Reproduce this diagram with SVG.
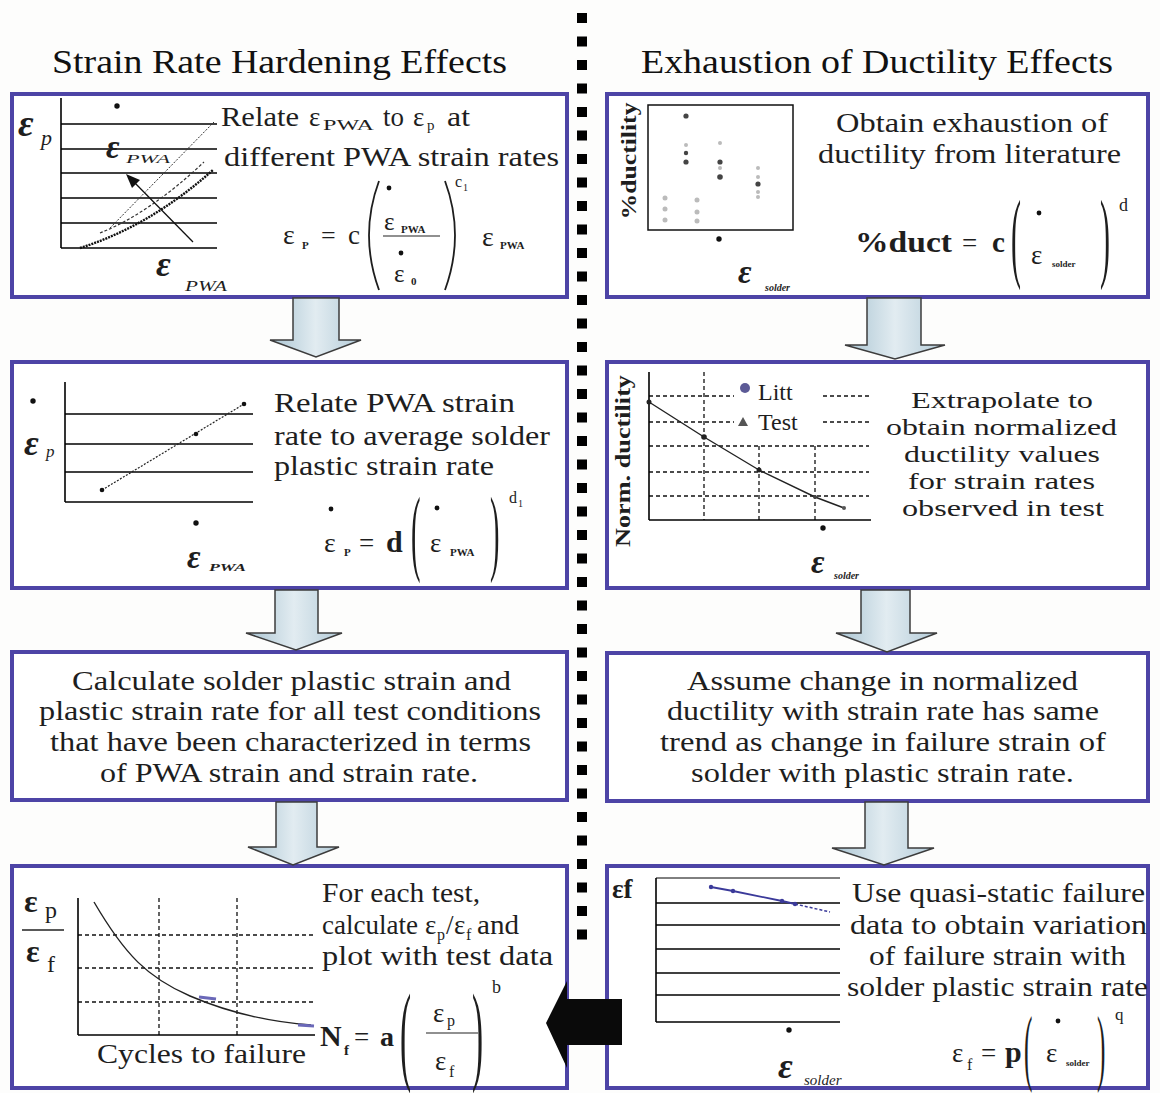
<svg xmlns="http://www.w3.org/2000/svg" width="1160" height="1093" viewBox="0 0 1160 1093">
<style>
.bg{fill:#fdfdfc}
.box{fill:#fff;stroke:#4d44a6;stroke-width:4}
.t{font-family:"Liberation Serif","Times New Roman",serif;font-size:27px;fill:#1e1e1e}
.t2{font-family:"Liberation Serif","Times New Roman",serif;font-size:24px;fill:#1e1e1e}
.h{font-family:"Liberation Serif","Times New Roman",serif;font-size:33px;fill:#111}
.m{font-family:"Liberation Serif","Times New Roman",serif;fill:#1e1e1e}
.b{font-weight:bold}
.i{font-style:italic}
.g{stroke:#000;stroke-width:1.6;fill:none}
.gt{stroke:#000;stroke-width:1;fill:none}
.d{stroke:#111;stroke-width:1.3;stroke-dasharray:4 3;fill:none}
.arr{fill:url(#ag);stroke:#3c3c3c;stroke-width:1.5}
.sq{fill:#000}
.dot{fill:#111}
.par{fill:none;stroke:#1e1e1e;stroke-width:1.8}
</style>
<defs>
<linearGradient id="ag" x1="0" y1="0" x2="1" y2="0">
<stop offset="0" stop-color="#a9c4d2"/><stop offset="0.5" stop-color="#e2ecf1"/><stop offset="1" stop-color="#b3cbd8"/>
</linearGradient>
</defs>
<rect class="bg" x="0" y="0" width="1160" height="1093"/>

<!-- separator -->
<g id="separator">
<rect class="sq" x="577" y="13" width="10" height="10"/><rect class="sq" x="577" y="36.5" width="10" height="10"/><rect class="sq" x="577" y="60" width="10" height="10"/><rect class="sq" x="577" y="83.5" width="10" height="10"/><rect class="sq" x="577" y="107" width="10" height="10"/><rect class="sq" x="577" y="130.5" width="10" height="10"/><rect class="sq" x="577" y="154" width="10" height="10"/><rect class="sq" x="577" y="177.5" width="10" height="10"/><rect class="sq" x="577" y="201" width="10" height="10"/><rect class="sq" x="577" y="224.5" width="10" height="10"/><rect class="sq" x="577" y="248" width="10" height="10"/><rect class="sq" x="577" y="271.5" width="10" height="10"/><rect class="sq" x="577" y="295" width="10" height="10"/><rect class="sq" x="577" y="318.5" width="10" height="10"/><rect class="sq" x="577" y="342" width="10" height="10"/><rect class="sq" x="577" y="365.5" width="10" height="10"/><rect class="sq" x="577" y="389" width="10" height="10"/><rect class="sq" x="577" y="412.5" width="10" height="10"/><rect class="sq" x="577" y="436" width="10" height="10"/><rect class="sq" x="577" y="459.5" width="10" height="10"/><rect class="sq" x="577" y="483" width="10" height="10"/><rect class="sq" x="577" y="506.5" width="10" height="10"/><rect class="sq" x="577" y="530" width="10" height="10"/><rect class="sq" x="577" y="553.5" width="10" height="10"/><rect class="sq" x="577" y="577" width="10" height="10"/><rect class="sq" x="577" y="600.5" width="10" height="10"/><rect class="sq" x="577" y="624" width="10" height="10"/><rect class="sq" x="577" y="647.5" width="10" height="10"/><rect class="sq" x="577" y="671" width="10" height="10"/><rect class="sq" x="577" y="694.5" width="10" height="10"/><rect class="sq" x="577" y="718" width="10" height="10"/><rect class="sq" x="577" y="741.5" width="10" height="10"/><rect class="sq" x="577" y="765" width="10" height="10"/><rect class="sq" x="577" y="788.5" width="10" height="10"/><rect class="sq" x="577" y="812" width="10" height="10"/><rect class="sq" x="577" y="835.5" width="10" height="10"/><rect class="sq" x="577" y="859" width="10" height="10"/><rect class="sq" x="577" y="882.5" width="10" height="10"/><rect class="sq" x="577" y="906" width="10" height="10"/><rect class="sq" x="577" y="929.5" width="10" height="10"/>
</g>

<!-- titles -->
<text class="h" x="52" y="73" textLength="455" lengthAdjust="spacingAndGlyphs">Strain Rate Hardening Effects</text>
<text class="h" x="641" y="73" textLength="472" lengthAdjust="spacingAndGlyphs">Exhaustion of Ductility Effects</text>

<!-- L1 -->
<g id="node-L1">
<rect class="box" x="12" y="94" width="555" height="203"/>
<line class="g" x1="61" y1="98" x2="61" y2="248"/>
<line class="g" x1="61" y1="124" x2="217" y2="124"/>
<line class="g" x1="61" y1="149" x2="217" y2="149"/>
<line class="g" x1="61" y1="173" x2="217" y2="173"/>
<line class="g" x1="61" y1="198" x2="217" y2="198"/>
<line class="g" x1="61" y1="223" x2="217" y2="223"/>
<line class="g" x1="61" y1="248" x2="217" y2="248"/>
<path d="M110,228 L214,122" stroke="#333" stroke-width="1" stroke-dasharray="2 1.5" fill="none"/>
<path d="M100,233 Q150,213 204,162" stroke="#333" stroke-width="1.2" stroke-dasharray="3 2" fill="none"/>
<path d="M80,248 Q150,226 213,170" stroke="#111" stroke-width="2.4" stroke-dasharray="2 1" fill="none"/>
<line x1="193" y1="242" x2="133" y2="181" stroke="#111" stroke-width="1.3"/>
<polygon points="126,174 140,180 132,188" fill="#111"/>
<text class="m b i" x="18" y="136" font-size="38">ε</text>
<text class="m i" x="41" y="145" font-size="22">p</text>
<circle class="dot" cx="117" cy="106" r="2.7"/>
<text class="m b i" x="106" y="158" font-size="33">ε</text>
<text class="m i" x="126" y="163" font-size="12" textLength="44" lengthAdjust="spacingAndGlyphs">PWA</text>
<text class="m b i" x="156" y="276" font-size="36">ε</text>
<text class="m i" x="185" y="291" font-size="15" textLength="42" lengthAdjust="spacingAndGlyphs">PWA</text>
<text class="t" x="221" y="126" textLength="78" lengthAdjust="spacingAndGlyphs">Relate</text>
<text class="t" x="309" y="126">ε</text>
<text class="m" x="323" y="130" font-size="15" textLength="51" lengthAdjust="spacingAndGlyphs">PWA</text>
<text class="t" x="383" y="126" textLength="21" lengthAdjust="spacingAndGlyphs">to</text>
<text class="t" x="413" y="126">ε</text>
<text class="m" x="427" y="130" font-size="15">p</text>
<text class="t" x="447" y="126" textLength="23" lengthAdjust="spacingAndGlyphs">at</text>
<text class="t" x="224" y="166" textLength="335" lengthAdjust="spacingAndGlyphs">different PWA strain rates</text>
<text class="m" x="283" y="244" font-size="28">ε</text>
<text class="m b" x="302" y="249" font-size="11">P</text>
<text class="m" x="321" y="244" font-size="26">=</text>
<text class="m" x="348" y="244" font-size="27">c</text>
<path class="par" d="M379,181 Q359,235 379,290"/>
<circle class="dot" cx="389" cy="188" r="2.4"/>
<text class="m" x="384" y="230" font-size="25">ε</text>
<text class="m b" x="401" y="233" font-size="11">PWA</text>
<line x1="383" y1="236" x2="440" y2="236" stroke="#222" stroke-width="1.2"/>
<circle class="dot" cx="401" cy="253" r="2.4"/>
<text class="m" x="394" y="282" font-size="25">ε</text>
<text class="m b" x="411" y="285" font-size="11">0</text>
<path class="par" d="M445,181 Q465,235 445,290"/>
<text class="m" x="455" y="187" font-size="16">c</text>
<text class="m" x="463" y="191" font-size="10">1</text>
<text class="m" x="482" y="246" font-size="28">ε</text>
<text class="m b" x="500" y="249" font-size="11">PWA</text>
</g>

<!-- R1 -->
<g id="node-R1">
<rect class="box" x="607" y="94" width="541" height="203"/>
<rect x="648" y="105" width="145" height="125" fill="#fff" stroke="#111" stroke-width="1.5"/>
<text class="m b" transform="translate(636,161) rotate(-90)" text-anchor="middle" font-size="20" textLength="117" lengthAdjust="spacingAndGlyphs">%ductility</text>
<g fill="#bbb">
<circle cx="665" cy="198" r="2.5"/><circle cx="665" cy="209" r="2.5"/><circle cx="665" cy="220" r="2.5"/>
<circle cx="697" cy="200" r="2.5"/><circle cx="697" cy="212" r="2.5"/><circle cx="697" cy="221" r="2.5"/>
<circle cx="686" cy="145" r="2"/><circle cx="720" cy="143" r="2"/><circle cx="720" cy="168" r="2"/><circle cx="758" cy="168" r="2"/><circle cx="758" cy="177" r="2"/><circle cx="758" cy="192" r="2"/><circle cx="758" cy="197" r="2"/>
</g>
<g fill="#444">
<circle cx="686" cy="116" r="2.6"/><circle cx="686" cy="153" r="2.2"/><circle cx="686" cy="162" r="2.6"/>
<circle cx="720" cy="162" r="2.6"/><circle cx="720" cy="177" r="2.8"/>
<circle cx="758" cy="184" r="2.6"/>
</g>
<circle class="dot" cx="719" cy="239" r="2.7"/>
<text class="m b i" x="738" y="283" font-size="33">ε</text>
<text class="m b i" x="765" y="291" font-size="10">solder</text>
<text class="t" x="836" y="132" textLength="272" lengthAdjust="spacingAndGlyphs">Obtain exhaustion of</text>
<text class="t" x="818" y="163" textLength="303" lengthAdjust="spacingAndGlyphs">ductility from literature</text>
<text class="m b" x="855" y="252" font-size="29" textLength="97" lengthAdjust="spacingAndGlyphs">%duct</text>
<text class="m" x="962" y="252" font-size="27">=</text>
<text class="m b" x="992" y="252" font-size="29">c</text>
<text class="m" transform="translate(1011,269) scale(0.3,1)" font-size="100">(</text>
<circle class="dot" cx="1039" cy="213" r="2.4"/>
<text class="m" x="1031" y="264" font-size="27">ε</text>
<text class="m b" x="1052" y="267" font-size="9">solder</text>
<text class="m" transform="translate(1100,269) scale(0.3,1)" font-size="100">)</text>
<text class="m" x="1119" y="211" font-size="18">d</text>
</g>

<!-- L2 -->
<g id="node-L2">
<rect class="box" x="12" y="362" width="555" height="226"/>
<line class="g" x1="65" y1="382" x2="65" y2="502"/>
<line class="g" x1="65" y1="414" x2="253" y2="414"/>
<line class="g" x1="65" y1="444" x2="253" y2="444"/>
<line class="g" x1="65" y1="472" x2="253" y2="472"/>
<line class="g" x1="65" y1="502" x2="253" y2="502"/>
<line x1="102" y1="490" x2="244" y2="404" stroke="#222" stroke-width="1.2" stroke-dasharray="2 1.5"/>
<circle cx="102" cy="490" r="2.3" fill="#111"/><circle cx="196" cy="434" r="2.3" fill="#111"/><circle cx="244" cy="404" r="2.3" fill="#111"/>
<circle class="dot" cx="33" cy="401" r="2.7"/>
<text class="m b i" x="24" y="455" font-size="36">ε</text>
<text class="m i" x="46" y="457" font-size="17">p</text>
<circle class="dot" cx="196" cy="523" r="2.7"/>
<text class="m b i" x="187" y="568" font-size="33">ε</text>
<text class="m b i" x="209" y="571" font-size="11" textLength="37" lengthAdjust="spacingAndGlyphs">PWA</text>
<text class="t" x="274" y="412" textLength="241" lengthAdjust="spacingAndGlyphs">Relate PWA strain</text>
<text class="t" x="274" y="445" textLength="276" lengthAdjust="spacingAndGlyphs">rate to average solder</text>
<text class="t" x="274" y="475" textLength="220" lengthAdjust="spacingAndGlyphs">plastic strain rate</text>
<circle class="dot" cx="331" cy="509" r="2.4"/>
<text class="m" x="324" y="552" font-size="28">ε</text>
<text class="m b" x="344" y="556" font-size="11">P</text>
<text class="m" x="359" y="552" font-size="27">=</text>
<text class="m b" x="386" y="552" font-size="30">d</text>
<text class="m" transform="translate(411,563) scale(0.3,1)" font-size="95">(</text>
<circle class="dot" cx="437" cy="508" r="2.4"/>
<text class="m" x="430" y="552" font-size="27">ε</text>
<text class="m b" x="450" y="556" font-size="11">PWA</text>
<text class="m" transform="translate(490,563) scale(0.3,1)" font-size="95">)</text>
<text class="m" x="509" y="503" font-size="16">d</text>
<text class="m" x="518" y="507" font-size="10">1</text>
</g>

<!-- R2 -->
<g id="node-R2">
<rect class="box" x="607" y="362" width="541" height="226"/>
<line class="d" x1="649" y1="396" x2="734" y2="396"/><line class="d" x1="823" y1="396" x2="869" y2="396"/>
<line class="d" x1="649" y1="422" x2="734" y2="422"/><line class="d" x1="823" y1="422" x2="869" y2="422"/>
<line class="d" x1="649" y1="446" x2="869" y2="446"/>
<line class="d" x1="649" y1="472" x2="869" y2="472"/>
<line class="d" x1="649" y1="496" x2="869" y2="496"/>
<line class="d" x1="704" y1="372" x2="704" y2="520"/>
<line class="d" x1="759" y1="446" x2="759" y2="520"/>
<line class="d" x1="815" y1="446" x2="815" y2="520"/>
<line class="g" x1="649" y1="372" x2="649" y2="520"/>
<line class="g" x1="649" y1="520" x2="871" y2="520"/>
<polyline points="649,402 704,437 759,470 815,497 844,508" fill="none" stroke="#222" stroke-width="1.4"/>
<circle cx="649" cy="402" r="2.5" fill="#222"/><circle cx="704" cy="437" r="2.8" fill="#222"/><circle cx="759" cy="470" r="2.5" fill="#222"/><circle cx="815" cy="497" r="2" fill="#444"/><circle cx="844" cy="508" r="2" fill="#555"/>
<circle cx="745" cy="388" r="5" fill="#5c5a96"/>
<text class="m" x="758" y="400" font-size="24">Litt</text>
<polygon points="743,417 748,426 738,426" fill="#555"/>
<text class="m" x="758" y="430" font-size="24">Test</text>
<text class="m b" transform="translate(630,461) rotate(-90)" text-anchor="middle" font-size="21" textLength="172" lengthAdjust="spacingAndGlyphs">Norm. ductility</text>
<circle class="dot" cx="823" cy="528" r="2.7"/>
<text class="m b i" x="811" y="573" font-size="33">ε</text>
<text class="m b i" x="834" y="579" font-size="10">solder</text>
<text class="t2" x="911" y="408" textLength="182" lengthAdjust="spacingAndGlyphs">Extrapolate to</text>
<text class="t2" x="886" y="435" textLength="231" lengthAdjust="spacingAndGlyphs">obtain normalized</text>
<text class="t2" x="904" y="462" textLength="196" lengthAdjust="spacingAndGlyphs">ductility values</text>
<text class="t2" x="908" y="489" textLength="187" lengthAdjust="spacingAndGlyphs">for strain rates</text>
<text class="t2" x="902" y="516" textLength="202" lengthAdjust="spacingAndGlyphs">observed in test</text>
</g>

<!-- L3 -->
<g id="node-L3">
<rect class="box" x="12" y="652" width="555" height="148"/>
<text class="t" x="72" y="690" textLength="439" lengthAdjust="spacingAndGlyphs">Calculate solder plastic strain and</text>
<text class="t" x="39" y="720" textLength="502" lengthAdjust="spacingAndGlyphs">plastic strain rate for all test conditions</text>
<text class="t" x="50" y="751" textLength="481" lengthAdjust="spacingAndGlyphs">that have been characterized in terms</text>
<text class="t" x="100" y="782" textLength="378" lengthAdjust="spacingAndGlyphs">of PWA strain and strain rate.</text>
</g>

<!-- R3 -->
<g id="node-R3">
<rect class="box" x="607" y="653" width="541" height="148"/>
<text class="t" x="687" y="690" textLength="391" lengthAdjust="spacingAndGlyphs">Assume change in normalized</text>
<text class="t" x="667" y="720" textLength="432" lengthAdjust="spacingAndGlyphs">ductility with strain rate has same</text>
<text class="t" x="660" y="751" textLength="446" lengthAdjust="spacingAndGlyphs">trend as change in failure strain of</text>
<text class="t" x="691" y="782" textLength="383" lengthAdjust="spacingAndGlyphs">solder with plastic strain rate.</text>
</g>

<!-- L4 -->
<g id="node-L4">
<rect class="box" x="12" y="866" width="555" height="222"/>
<line class="d" x1="78" y1="935" x2="315" y2="935"/>
<line class="d" x1="78" y1="968" x2="315" y2="968"/>
<line class="d" x1="78" y1="1002" x2="315" y2="1002"/>
<line class="d" x1="159" y1="898" x2="159" y2="1035"/>
<line class="d" x1="237" y1="898" x2="237" y2="1035"/>
<line class="g" x1="78" y1="898" x2="78" y2="1035"/>
<line class="g" x1="78" y1="1035" x2="315" y2="1035"/>
<path d="M94,902 C125,955 148,978 190,996 S270,1022 311,1025" fill="none" stroke="#222" stroke-width="1.4"/>
<line x1="199" y1="997" x2="216" y2="999" stroke="#6a68b8" stroke-width="3"/>
<line x1="298" y1="1025" x2="314" y2="1026" stroke="#6a68b8" stroke-width="3"/>
<text class="m b" x="24" y="912" font-size="32">ε</text>
<text class="m" x="45" y="918" font-size="24">p</text>
<line x1="22" y1="930" x2="64" y2="930" stroke="#222" stroke-width="1.4"/>
<text class="m b" x="26" y="962" font-size="32">ε</text>
<text class="m" x="47" y="972" font-size="24">f</text>
<text class="t" x="322" y="902" textLength="158" lengthAdjust="spacingAndGlyphs">For each test,</text>
<text class="t" x="322" y="934" textLength="96" lengthAdjust="spacingAndGlyphs">calculate</text>
<text class="t" x="425" y="934">ε</text>
<text class="m" x="437" y="940" font-size="16">p</text>
<text class="t" x="446" y="934">/</text>
<text class="t" x="454" y="934">ε</text>
<text class="m" x="466" y="940" font-size="16">f</text>
<text class="t" x="477" y="934" textLength="42" lengthAdjust="spacingAndGlyphs">and</text>
<text class="t" x="322" y="965" textLength="231" lengthAdjust="spacingAndGlyphs">plot with test data</text>
<text class="t" x="97" y="1063" textLength="209" lengthAdjust="spacingAndGlyphs">Cycles to failure</text>
<text class="m b" x="320" y="1046" font-size="30">N</text>
<text class="m b" x="344" y="1055" font-size="15">f</text>
<text class="m" x="354" y="1046" font-size="27">=</text>
<text class="m b" x="380" y="1046" font-size="28">a</text>
<text class="m" transform="translate(400,1070) scale(0.3,1)" font-size="111">(</text>
<text class="m" x="433" y="1022" font-size="27">ε</text>
<text class="m" x="447" y="1026" font-size="16">p</text>
<line x1="426" y1="1033" x2="478" y2="1033" stroke="#222" stroke-width="1.2"/>
<text class="m" x="435" y="1070" font-size="27">ε</text>
<text class="m" x="449" y="1077" font-size="16">f</text>
<text class="m" transform="translate(472,1070) scale(0.3,1)" font-size="111">)</text>
<text class="m" x="492" y="993" font-size="18">b</text>
</g>

<!-- R4 -->
<g id="node-R4">
<rect class="box" x="607" y="866" width="541" height="222"/>
<line class="g" x1="656" y1="878" x2="656" y2="1022"/>
<line class="gt" x1="656" y1="878" x2="840" y2="878"/>
<line class="g" x1="656" y1="903" x2="840" y2="903"/>
<line class="g" x1="656" y1="925" x2="840" y2="925"/>
<line class="g" x1="656" y1="949" x2="840" y2="949"/>
<line class="g" x1="656" y1="973" x2="840" y2="973"/>
<line class="g" x1="656" y1="995" x2="840" y2="995"/>
<line class="g" x1="656" y1="1022" x2="840" y2="1022"/>
<polyline points="711,887 733,891 782,901 795,904" fill="none" stroke="#3b3a9a" stroke-width="1.8"/>
<line x1="795" y1="904" x2="830" y2="912" stroke="#3b3a9a" stroke-width="1.5" stroke-dasharray="3 2"/>
<circle cx="711" cy="887" r="2.2" fill="#3b3a9a"/><circle cx="733" cy="891" r="2.2" fill="#3b3a9a"/><circle cx="782" cy="901" r="2.2" fill="#3b3a9a"/><circle cx="795" cy="904" r="2.2" fill="#3b3a9a"/>
<text class="m b" x="612" y="898" font-size="27">εf</text>
<circle class="dot" cx="789" cy="1030" r="2.7"/>
<text class="m b i" x="778" y="1078" font-size="36">ε</text>
<text class="m i" x="804" y="1085" font-size="15">solder</text>
<text class="t" x="852" y="902" textLength="293" lengthAdjust="spacingAndGlyphs">Use quasi-static failure</text>
<text class="t" x="850" y="934" textLength="297" lengthAdjust="spacingAndGlyphs">data to obtain variation</text>
<text class="t" x="869" y="965" textLength="257" lengthAdjust="spacingAndGlyphs">of failure strain with</text>
<text class="t" x="847" y="996" textLength="301" lengthAdjust="spacingAndGlyphs">solder plastic strain rate</text>
<text class="m" x="952" y="1062" font-size="27">ε</text>
<text class="m" x="967" y="1070" font-size="16">f</text>
<text class="m" x="981" y="1062" font-size="27">=</text>
<text class="m b" x="1005" y="1062" font-size="30">p</text>
<text class="m" transform="translate(1024,1075) scale(0.3,1)" font-size="84">(</text>
<circle class="dot" cx="1058" cy="1021" r="2.4"/>
<text class="m" x="1046" y="1062" font-size="27">ε</text>
<text class="m b" x="1066" y="1066" font-size="9">solder</text>
<text class="m" transform="translate(1097,1075) scale(0.3,1)" font-size="84">)</text>
<text class="m" x="1115" y="1020" font-size="17">q</text>
</g>

<!-- connectors -->
<g id="connectors">
<polygon class="arr" points="293,298 339,298 339,340 361,340 316,357 270,340 293,340"/>
<polygon class="arr" points="275,590 318,590 318,633 342,633 296,650 246,633 275,633"/>
<polygon class="arr" points="276,802 317,802 317,847 339,847 293,865 248,847 276,847"/>
<polygon class="arr" points="867,298 921,298 921,345 945,345 895,359 845,345 867,345"/>
<polygon class="arr" points="861,590 910,590 910,633 937,633 887,652 836,633 861,633"/>
<polygon class="arr" points="865,802 908,802 908,848 934,848 884,865 832,848 865,848"/>
<polygon points="546,1023 567,981 567,999 622,999 622,1045 567,1045 567,1068" fill="#0a0a0a"/>
</g>
</svg>
